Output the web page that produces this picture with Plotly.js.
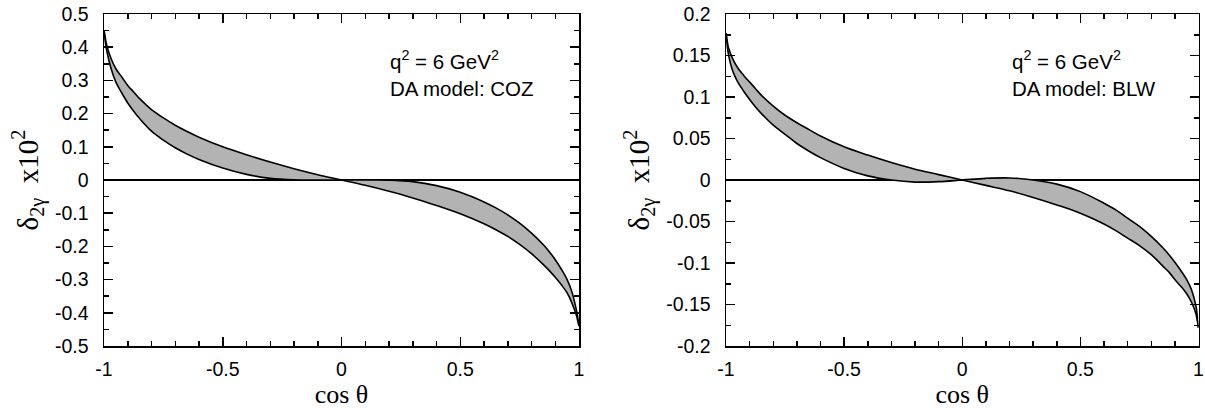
<!DOCTYPE html>
<html>
<head>
<meta charset="utf-8">
<script src="https://cdn.plot.ly/plotly-3.0.1.min.js"></script>
<style>
  html, body { margin: 0; padding: 0; background: #fff; }
  #chart { width: 1205px; height: 411px; }
</style>
</head>
<body>
<div id="chart"></div>
<script>
// cos(theta) sample points
const cosTheta = [-1, -0.995, -0.99, -0.97, -0.95, -0.925, -0.9, -0.875, -0.85, -0.8, -0.75, -0.7, -0.65, -0.6, -0.5, -0.4, -0.3, -0.2, -0.1, 0,
                  0.1, 0.2, 0.3, 0.4, 0.5, 0.6, 0.65, 0.7, 0.75, 0.8, 0.85, 0.875, 0.9, 0.925, 0.95, 0.97, 0.99, 0.995, 1];

// COZ model band (delta_2gamma x 10^2)
const cozEdgeA = [0.45, 0.43, 0.41, 0.365, 0.335, 0.31, 0.285, 0.265, 0.245, 0.212, 0.187, 0.165, 0.146, 0.129, 0.100, 0.076, 0.054, 0.034, 0.016, 0,
                  -0.016, -0.034, -0.054, -0.077, -0.102, -0.132, -0.150, -0.170, -0.194, -0.222, -0.255, -0.273, -0.293, -0.315, -0.34, -0.37, -0.41, -0.425, -0.44];
const cozEdgeB = [0.45, 0.42, 0.395, 0.335, 0.295, 0.262, 0.232, 0.207, 0.185, 0.147, 0.12, 0.097, 0.078, 0.062, 0.036, 0.017, 0.005, 0.0005, 0, 0,
                  0, -0.0005, -0.005, -0.017, -0.037, -0.066, -0.084, -0.105, -0.13, -0.16, -0.195, -0.216, -0.24, -0.268, -0.3, -0.337, -0.395, -0.415, -0.44];

// BLW model band (delta_2gamma x 10^2)
const blwEdgeA = [0.177, 0.168, 0.16, 0.145, 0.135, 0.126, 0.118, 0.110, 0.102, 0.089, 0.078, 0.069, 0.061, 0.053, 0.040, 0.030, 0.021, 0.013, 0.0065, 0,
                  -0.0065, -0.013, -0.021, -0.030, -0.040, -0.053, -0.061, -0.070, -0.079, -0.090, -0.104, -0.111, -0.12, -0.128, -0.137, -0.147, -0.162, -0.17, -0.178];
const blwEdgeB = [0.177, 0.163, 0.152, 0.13, 0.118, 0.107, 0.097, 0.088, 0.080, 0.066, 0.055, 0.044, 0.035, 0.027, 0.014, 0.005, 0.0, -0.0025, -0.002, 0,
                  0.002, 0.0025, 0, -0.005, -0.014, -0.028, -0.036, -0.046, -0.056, -0.068, -0.082, -0.09, -0.099, -0.109, -0.12, -0.132, -0.153, -0.165, -0.178];

// tick labels
const xTickVals = [-1, -0.5, 0, 0.5, 1];
const xTickText = ['-1', '-0.5', '0', '0.5', '1'];
const yTickValsL = [-0.5, -0.4, -0.3, -0.2, -0.1, 0, 0.1, 0.2, 0.3, 0.4, 0.5];
const yTickTextL = ['-0.5', '-0.4', '-0.3', '-0.2', '-0.1', '0', '0.1', '0.2', '0.3', '0.4', '0.5'];
const yTickValsR = [-0.2, -0.15, -0.1, -0.05, 0, 0.05, 0.1, 0.15, 0.2];
const yTickTextR = ['-0.2', '-0.15', '-0.1', '-0.05', '0', '0.05', '0.1', '0.15', '0.2'];

const panelText = [
  ['q<sup>2</sup> = 6 GeV<sup>2</sup>', 'DA model: COZ'],
  ['q<sup>2</sup> = 6 GeV<sup>2</sup>', 'DA model: BLW']
];

const lineStyle = {color: '#000', width: 1.6, shape: 'spline', smoothing: 1};
const fillGray = '#b3b3b3';

function band(xa, ya, edgeB, edgeA) {
  return [
    {x: cosTheta, y: edgeB, xaxis: xa, yaxis: ya, type: 'scatter', mode: 'lines',
     line: lineStyle, hoverinfo: 'skip', showlegend: false},
    {x: cosTheta, y: edgeA, xaxis: xa, yaxis: ya, type: 'scatter', mode: 'lines',
     line: lineStyle, fill: 'tonexty', fillcolor: fillGray, hoverinfo: 'skip', showlegend: false}
  ];
}

const data = [].concat(band('x', 'y', cozEdgeB, cozEdgeA), band('x2', 'y2', blwEdgeB, blwEdgeA));

const tickFont = {family: 'Liberation Sans, Arial, sans-serif', size: 19.5, color: '#000'};
const xTitleFont = {family: 'Liberation Serif, Times New Roman, serif', size: 26, color: '#000'};
const yTitleFont = {family: 'Liberation Serif, Times New Roman, serif', size: 29, color: '#000'};

function xAxis(domain, anchor) {
  return {
    domain: domain, anchor: anchor, range: [-1, 1],
    showgrid: false, zeroline: false,
    showline: true, linecolor: '#000', linewidth: 1.5, mirror: 'ticks',
    ticks: 'inside', ticklen: 9, tickwidth: 1.5, tickcolor: '#000',
    tickmode: 'array', tickvals: xTickVals, ticktext: xTickText,
    tickfont: tickFont, ticklabelstandoff: 5,
    minor: {tickmode: 'linear', tick0: 0, dtick: 0.1, ticks: 'inside', ticklen: 5, tickwidth: 1.5, tickcolor: '#000', showgrid: false},
    title: {text: 'cos θ', font: xTitleFont, standoff: 4}
  };
}

function yAxis(range, vals, text, minorDtick, anchor) {
  return {
    anchor: anchor, range: range, domain: [0, 1],
    showgrid: false,
    zeroline: true, zerolinecolor: '#000', zerolinewidth: 1.6,
    showline: true, linecolor: '#000', linewidth: 1.5, mirror: 'ticks',
    ticks: 'inside', ticklen: 9, tickwidth: 1.5, tickcolor: '#000',
    tickmode: 'array', tickvals: vals, ticktext: text,
    tickfont: tickFont, ticklabelstandoff: 10,
    minor: {tickmode: 'linear', tick0: 0, dtick: minorDtick, ticks: 'inside', ticklen: 5, tickwidth: 1.5, tickcolor: '#000', showgrid: false},
    title: {text: 'δ<sub>2γ</sub>\u00a0\u00a0x10<sup>2</sup>', font: yTitleFont, standoff: 8}
  };
}

const annFont = {family: 'Liberation Sans, Arial, sans-serif', size: 20.5, color: '#000'};
const annotations = [];
[[0.322, 0], [0.838, 1]].forEach(([xp, i]) => {
  annotations.push({xref: 'paper', yref: 'paper', x: xp, y: 0.862, xanchor: 'left', yanchor: 'middle',
                    text: panelText[i][0], showarrow: false, font: annFont});
  annotations.push({xref: 'paper', yref: 'paper', x: xp, y: 0.775, xanchor: 'left', yanchor: 'middle',
                    text: panelText[i][1], showarrow: false, font: annFont});
});

const layout = {
  width: 1205, height: 411,
  margin: {l: 0, r: 0, t: 14, b: 65},
  paper_bgcolor: '#fff', plot_bgcolor: '#fff',
  showlegend: false,
  xaxis: xAxis([104 / 1205, 579 / 1205], 'y'),
  yaxis: yAxis([-0.5, 0.5], yTickValsL, yTickTextL, 0.05, 'x'),
  xaxis2: xAxis([726 / 1205, 1198.5 / 1205], 'y2'),
  yaxis2: yAxis([-0.2, 0.2], yTickValsR, yTickTextR, 0.025, 'x2'),
  annotations: annotations
};

Plotly.newPlot('chart', data, layout, {staticPlot: true, displayModeBar: false});
</script>
</body>
</html>
